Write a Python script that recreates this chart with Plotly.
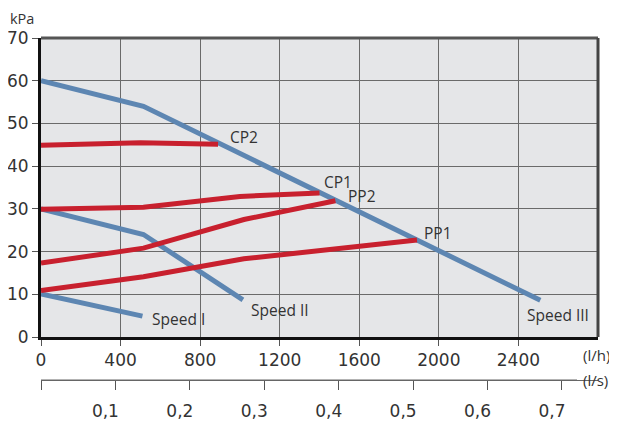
import plotly.graph_objects as go

# ---- data (l/h, kPa) ----
speed3_x = [0, 515, 2510]
speed3_y = [60, 54, 8.6]
speed2_x = [0, 515, 1015]
speed2_y = [30, 24, 8.7]
speed1_x = [0, 510]
speed1_y = [10.1, 4.9]

cp2_x = [0, 500, 890]
cp2_y = [44.9, 45.5, 45.1]
cp1_x = [0, 515, 1000, 1400]
cp1_y = [29.9, 30.4, 32.9, 33.7]
pp2_x = [0, 515, 1020, 1480]
pp2_y = [17.3, 20.8, 27.5, 31.9]
pp1_x = [0, 515, 1020, 1890]
pp1_y = [10.9, 14.1, 18.3, 22.7]

x_ticks = [0, 400, 800, 1200, 1600, 2000, 2400]
y_ticks = [0, 10, 20, 30, 40, 50, 60, 70]
ls_ticks = [0, 0.1, 0.2, 0.3, 0.4, 0.5, 0.6, 0.7]
ls_text = ["", "0,1", "0,2", "0,3", "0,4", "0,5", "0,6", "0,7"]

BLUE = "#5d86b2"
RED = "#c8202e"
TXT = "#333333"
FONT = "Open Sans"
NUMFONT = "DejaVu Sans"

fig = go.Figure()

def add(xs, ys, color, label, xshift, yshift):
    fig.add_trace(go.Scatter(x=xs, y=ys, mode="lines",
                             line=dict(color=color, width=5),
                             showlegend=False, hoverinfo="skip"))
    fig.add_annotation(x=xs[-1], y=ys[-1], text=label, showarrow=False,
                       xanchor="left", yanchor="middle",
                       xshift=xshift, yshift=yshift,
                       font=dict(family=FONT, size=15.5, color=TXT))

add(speed3_x, speed3_y, BLUE, "Speed III", -15, -15)
add(speed2_x, speed2_y, BLUE, "Speed II", 6, -10)
add(speed1_x, speed1_y, BLUE, "Speed I", 8, -3)
add(cp2_x, cp2_y, RED, "CP2", 10, 7)
add(cp1_x, cp1_y, RED, "CP1", 2, 11)
add(pp2_x, pp2_y, RED, "PP2", 11, 5)
add(pp1_x, pp1_y, RED, "PP1", 5, 7)

# dummy trace to activate secondary x axis (l/s)
fig.add_trace(go.Scatter(x=[0], y=[0], xaxis="x2", mode="markers",
                         marker=dict(opacity=0), showlegend=False,
                         hoverinfo="skip"))

OFF = 8  # page body margin
W, H = 617 - OFF, 423 - OFF
plot_left, plot_right = 41 - OFF, 598 - OFF
plot_top, plot_bot = 38 - OFF, 337 - OFF
axis2_y = 380 - OFF
ydom0 = (axis2_y - plot_bot) / (axis2_y - plot_top)

xmax = 2800
dom2_end = (577 - 41) / (598 - 41)

fig.update_layout(
    width=W, height=H,
    margin=dict(l=plot_left, r=W - plot_right, t=plot_top, b=H - axis2_y,
                autoexpand=False),
    paper_bgcolor="white",
    plot_bgcolor="#e5e6e8",
    font=dict(family=FONT, color=TXT),
    xaxis=dict(range=[0, xmax], domain=[0, 1], anchor="y", automargin=False,
               tickvals=x_ticks, showgrid=True, gridcolor="#6a6a6a", gridwidth=1,
               showline=True, linecolor="#111", linewidth=3, mirror=False,
               ticks="outside", ticklen=6, tickcolor="#555", tickwidth=1,
               tickfont=dict(family=NUMFONT, size=17, color=TXT), zeroline=False),
    yaxis=dict(range=[0, 70], domain=[ydom0, 1], anchor="x", automargin=False,
               tickvals=y_ticks, showgrid=True, gridcolor="#6a6a6a", gridwidth=1,
               showline=True, linecolor="#111", linewidth=3, mirror=False,
               ticks="outside", ticklen=6, tickcolor="#555", tickwidth=1,
               tickfont=dict(family=NUMFONT, size=17, color=TXT), zeroline=False),
    xaxis2=dict(range=[0, xmax * dom2_end / 3600], domain=[0, dom2_end],
                anchor="free", position=0, overlaying="x", side="bottom",
                automargin=False,
                tickvals=ls_ticks, ticktext=ls_text, showgrid=False,
                showline=True, linecolor="#666", linewidth=1,
                ticks="outside", ticklen=9, tickcolor="#555", tickwidth=1,
                ticklabelshift=-10, ticklabelstandoff=7,
                tickfont=dict(family=NUMFONT, size=17, color=TXT), zeroline=False),
)

# top and right frame (dark grey)
fig.add_shape(type="line", xref="paper", yref="paper",
              x0=0, x1=1, y0=1, y1=1, line=dict(color="#555", width=3))
fig.add_shape(type="line", xref="paper", yref="paper",
              x0=1, x1=1, y0=ydom0, y1=1, line=dict(color="#444", width=3))
# l/s axis base line
fig.add_shape(type="line", xref="paper", yref="paper",
              x0=0, x1=dom2_end, y0=0, y1=0,
              line=dict(color="#666", width=1))

fig.add_annotation(xref="paper", yref="paper", x=0, y=1,
                   text="kPa", showarrow=False, xanchor="left", yanchor="middle",
                   xshift=-33, yshift=20,
                   font=dict(family=FONT, size=14.5, color=TXT))
fig.add_annotation(xref="paper", yref="paper", x=1.0, y=ydom0,
                   text="(l/h)", showarrow=False, xanchor="left", yanchor="middle",
                   xshift=-17, yshift=-18,
                   font=dict(family=FONT, size=15, color=TXT))
fig.add_annotation(xref="paper", yref="paper", x=1.0, y=0,
                   text="(l/s)", showarrow=False, xanchor="left", yanchor="middle",
                   xshift=-17,
                   font=dict(family=FONT, size=15, color=TXT))

fig.write_html("out.html")
